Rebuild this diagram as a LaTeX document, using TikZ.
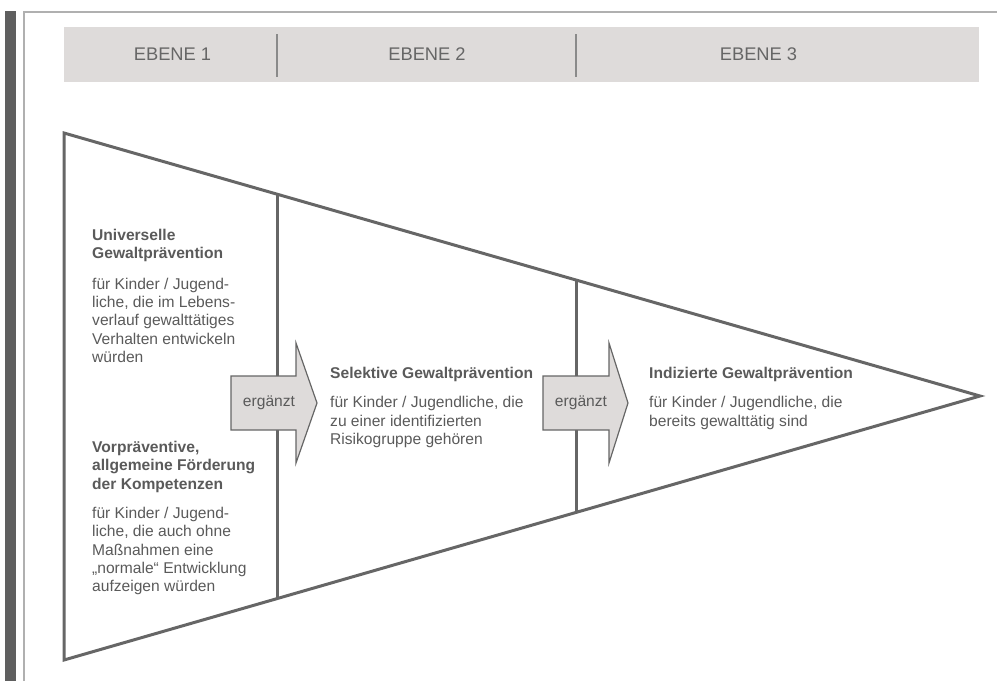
\documentclass[tikz,border=0pt]{standalone}
\usepackage{fontspec}
\setmainfont{Liberation Sans}
\definecolor{bandfill}{HTML}{DEDBDA}
\definecolor{linegray}{HTML}{666666}
\definecolor{txtgray}{HTML}{5A5A5A}
\definecolor{bargray}{HTML}{5F5F5F}
\definecolor{framegray}{HTML}{B0B0B0}
\definecolor{sepgray}{HTML}{8A8A8A}
\tikzset{
  txtblock/.style={anchor=north west, inner sep=0pt, align=left, text=txtgray,
    font=\fontsize{15.6}{18.3}\selectfont},
  ebene/.style={inner sep=0pt, text=linegray, font=\fontsize{18.3}{20}\selectfont},
  tri/.style={draw=linegray, line width=3pt},
  divider/.style={draw=linegray, line width=3pt},
  arrowshape/.style={draw=linegray, fill=bandfill, line width=1.2pt, line join=miter},
  arrowtext/.style={inner sep=0pt, text=txtgray, font=\fontsize{15.6}{18}\selectfont},
}
\begin{document}
\begin{tikzpicture}[x=1pt,y=-1pt]
\useasboundingbox (0,0) rectangle (997,681);
% frame
\fill[bargray] (5,10.7) rectangle (16,681);
\draw[framegray, line width=1.5pt] (24,681) -- (24,12) -- (997,12);
% header band
\node[fill=bandfill, minimum width=915pt, minimum height=55pt, anchor=north west, inner sep=0pt] (band) at (64,27) {};
\draw[sepgray, line width=1.3pt] (277,34) -- (277,77);
\draw[sepgray, line width=1.3pt] (576,34) -- (576,77);
\node[ebene] (e1) at (172.5,54.5) {EBENE 1};
\node[ebene] (e2) at (427,54.5) {EBENE 2};
\node[ebene] (e3) at (758.5,54.5) {EBENE 3};
% triangle
\coordinate (tl) at (64,133);
\coordinate (apex) at (980,396);
\coordinate (bl) at (64,660);
\draw[tri] (tl) -- (apex) -- (bl) -- cycle;
\draw[divider] (277,194.2) -- (277,598.6);
\draw[divider] (576,280.0) -- (576,512.4);
% arrows
\draw[arrowshape] (231,376) -- (296,376) -- (296,343) -- (317,403) -- (296,463) -- (296,430) -- (231,430) -- cycle;
\node[arrowtext] (a1) at (269,403) {ergänzt};
\draw[arrowshape] (543,376) -- (609,376) -- (609,343) -- (628,403) -- (609,463) -- (609,430) -- (543,430) -- cycle;
\node[arrowtext] (a2) at (581,403) {ergänzt};
% texts
\node[txtblock] (univ) at (92,229) {\textbf{Universelle}\\\textbf{Gewaltprävention}\\[12pt]
für Kinder / Jugend-\\liche, die im Lebens-\\verlauf gewalttätiges\\Verhalten entwickeln\\würden};
\node[txtblock] (vor) at (92,441) {\textbf{Vorpräventive,}\\\textbf{allgemeine Förderung}\\\textbf{der Kompetenzen}\\[11pt]
für Kinder / Jugend-\\liche, die auch ohne\\Maßnahmen eine\\„normale“ Entwicklung\\aufzeigen würden};
\node[txtblock] (sel) at (330,367) {\textbf{Selektive Gewaltprävention}\\[11pt]
für Kinder / Jugendliche, die\\zu einer identifizierten\\Risikogruppe gehören};
\node[txtblock] (ind) at (649,367) {\textbf{Indizierte Gewaltprävention}\\[11pt]
für Kinder / Jugendliche, die\\bereits gewalttätig sind};
\end{tikzpicture}
\end{document}
